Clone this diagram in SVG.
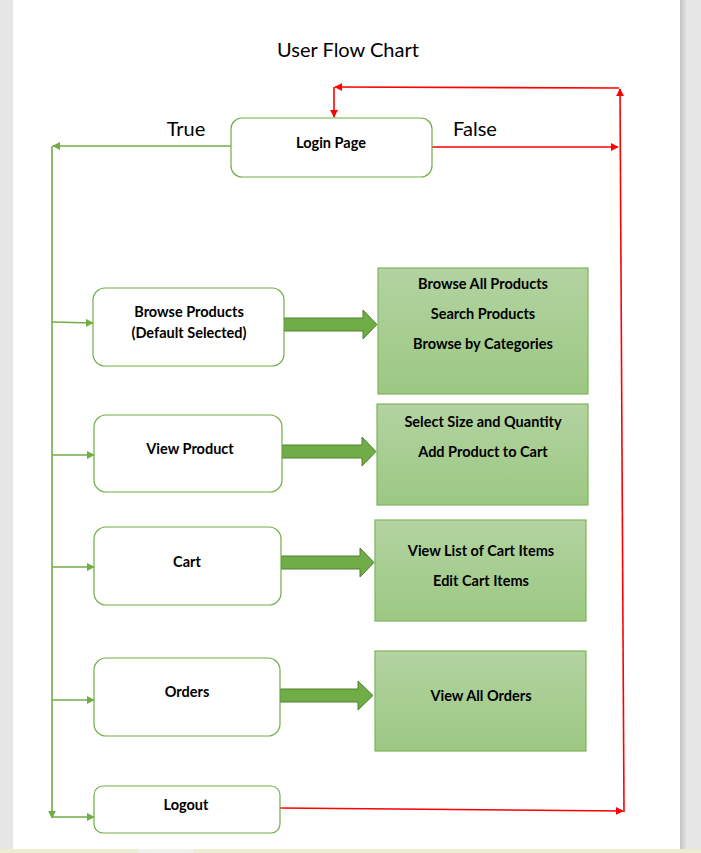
<svg xmlns="http://www.w3.org/2000/svg" width="701" height="853" viewBox="0 0 701 853">
<defs>
<style>
.node{fill:#fff;stroke:#70ad47;stroke-width:1.2}
.sub{stroke:#7fb35d;stroke-width:1.2}
.lbl{font-family:Lato,"Liberation Sans",sans-serif;font-weight:bold;font-size:14.5px;fill:#000;text-anchor:middle}
.big{font-family:Lato,"Liberation Sans",sans-serif;font-size:20px;fill:#000}
.g{stroke:#70ad47;stroke-width:1.6;fill:none}
.r{stroke:#ff0000;stroke-width:1.6;fill:none}
.blk{fill:#70ad47;stroke:#507e32;stroke-width:1}
</style>
<linearGradient id="gf" x1="0" y1="0" x2="0" y2="1">
<stop offset="0" stop-color="#b3d3a1"/>
<stop offset="1" stop-color="#9cc883"/>
</linearGradient>
<linearGradient id="sh" x1="0" y1="0" x2="1" y2="0">
<stop offset="0" stop-color="#c4c4c4"/>
<stop offset="1" stop-color="#e6e6e6"/>
</linearGradient>
<marker id="ag" viewBox="0 0 10 10" refX="9" refY="5" markerWidth="5" markerHeight="5" orient="auto" markerUnits="strokeWidth">
<path d="M0,0 L10,5 L0,10 z" fill="#70ad47"/>
</marker>
<marker id="ar" viewBox="0 0 10 10" refX="9" refY="5" markerWidth="5" markerHeight="5" orient="auto" markerUnits="strokeWidth">
<path d="M0,0 L10,5 L0,10 z" fill="#ff0000"/>
</marker>
</defs>
<rect x="0" y="0" width="701" height="853" fill="#e6e6e6"/>
<rect x="680" y="0" width="7" height="849" fill="url(#sh)"/>
<rect x="13" y="0" width="667" height="849" fill="#ffffff"/>
<rect x="0" y="849" width="701" height="4" fill="#eceed4"/>
<rect x="138" y="849" width="55" height="4" fill="#f1f1ec"/>

<text class="big" x="348" y="57" text-anchor="middle">User Flow Chart</text>
<text class="big" x="186" y="136" text-anchor="middle">True</text>
<text class="big" x="475" y="136" text-anchor="middle">False</text>

<g id="connectors">
<path class="g" d="M231,146 H53" marker-end="url(#ag)"/>
<path class="g" d="M52,146 V818" marker-end="url(#ag)"/>
<path class="g" d="M52,322 L93,323" marker-end="url(#ag)"/>
<path class="g" d="M52,455 H94" marker-end="url(#ag)"/>
<path class="g" d="M52,567 H94" marker-end="url(#ag)"/>
<path class="g" d="M52,700 H94" marker-end="url(#ag)"/>
<path class="g" d="M52,817 H94" marker-end="url(#ag)"/>
<path class="r" d="M432,147 H618" marker-end="url(#ar)"/>
<path class="r" d="M624,812 L620,89" marker-end="url(#ar)"/>
<path class="r" d="M619,88 L335,87" marker-end="url(#ar)"/>
<path class="r" d="M334,87 V117" marker-end="url(#ar)"/>
<path class="r" d="M280,808 L623,811" marker-end="url(#ar)"/>
<path class="blk" d="M284,318 H363 V310 L377,324.5 L363,339 V331 H284 z"/>
<path class="blk" d="M282,445 H362 V437 L376,451.5 L362,466 V458 H282 z"/>
<path class="blk" d="M281,556 H360 V548 L374,562.5 L360,577 V569 H281 z"/>
<path class="blk" d="M280,689 H358 V681 L373,695.5 L358,710 V702 H280 z"/>
</g>

<g id="login">
<rect class="node" x="231" y="118" width="201" height="59" rx="11"/>
<text class="lbl" x="331" y="148">Login Page</text>
</g>
<g id="browse">
<rect class="node" x="93" y="288" width="191" height="78" rx="12"/>
<text class="lbl" x="189" y="317">Browse Products</text>
<text class="lbl" x="189" y="338">(Default Selected)</text>
</g>
<g id="view">
<rect class="node" x="94" y="415" width="188" height="77" rx="12"/>
<text class="lbl" x="190" y="454">View Product</text>
</g>
<g id="cart">
<rect class="node" x="94" y="527" width="187" height="78" rx="12"/>
<text class="lbl" x="187" y="567">Cart</text>
</g>
<g id="orders">
<rect class="node" x="94" y="658" width="186" height="78" rx="12"/>
<text class="lbl" x="187" y="697">Orders</text>
</g>
<g id="logout">
<rect class="node" x="94" y="786" width="186" height="47" rx="9"/>
<text class="lbl" x="186" y="810">Logout</text>
</g>
<g id="browse-actions">
<rect class="sub" x="378" y="268" width="210" height="126" fill="url(#gf)"/>
<text class="lbl" x="483" y="289">Browse All Products</text>
<text class="lbl" x="483" y="319">Search Products</text>
<text class="lbl" x="483" y="349">Browse by Categories</text>
</g>
<g id="view-actions">
<rect class="sub" x="377" y="404" width="211" height="101" fill="url(#gf)"/>
<text class="lbl" x="483" y="427">Select Size and Quantity</text>
<text class="lbl" x="483" y="457">Add Product to Cart</text>
</g>
<g id="cart-actions">
<rect class="sub" x="375" y="520" width="211" height="101" fill="url(#gf)"/>
<text class="lbl" x="481" y="556">View List of Cart Items</text>
<text class="lbl" x="481" y="586">Edit Cart Items</text>
</g>
<g id="orders-actions">
<rect class="sub" x="375" y="651" width="211" height="100" fill="url(#gf)"/>
<text class="lbl" x="481" y="701">View All Orders</text>
</g>
</svg>
